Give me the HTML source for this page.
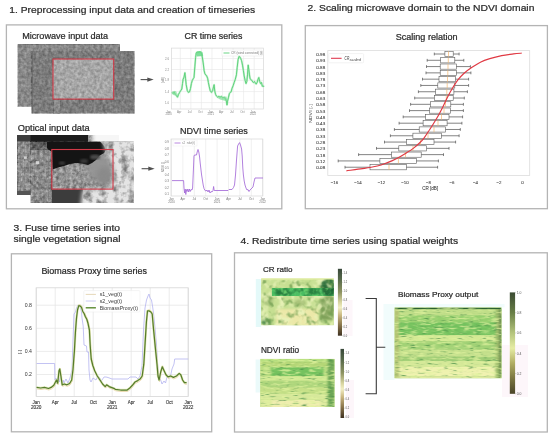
<!DOCTYPE html>
<html><head><meta charset="utf-8"><title>Workflow</title>
<style>
html,body{margin:0;padding:0;background:#fff;width:550px;height:435px;overflow:hidden}
svg{display:block}
text{font-family:"Liberation Sans",sans-serif}
svg{will-change:transform}
</style></head>
<body><svg width="550" height="435" viewBox="0 0 550 435">
<rect width="550" height="435" fill="#fff"/>
<defs>
<filter color-interpolation-filters="sRGB" id="nzMw" x="0" y="0" width="1" height="1" filterUnits="objectBoundingBox">
  <feTurbulence type="fractalNoise" baseFrequency="0.33" numOctaves="2" seed="3" result="n"/>
  <feColorMatrix in="n" type="matrix" values="1 0 0 0 0  1 0 0 0 0  1 0 0 0 0  0 0 0 0 1" result="g0"/>
  <feGaussianBlur in="g0" stdDeviation="0.75" result="g"/>
  <feComposite in="g" in2="SourceGraphic" operator="arithmetic" k1="0" k2="0.32" k3="1" k4="-0.16"/>
</filter>
<filter color-interpolation-filters="sRGB" id="nzCoarse" x="0" y="0" width="1" height="1" filterUnits="objectBoundingBox">
  <feTurbulence type="fractalNoise" baseFrequency="0.22" numOctaves="3" seed="7" result="n"/>
  <feColorMatrix in="n" type="matrix" values="1 0 0 0 0  1 0 0 0 0  1 0 0 0 0  0 0 0 0 1" result="g0"/>
  <feGaussianBlur in="g0" stdDeviation="0.4" result="g"/>
  <feComposite in="g" in2="SourceGraphic" operator="arithmetic" k1="0" k2="0.55" k3="1" k4="-0.275"/>
</filter>
<filter color-interpolation-filters="sRGB" id="nzFine" x="0" y="0" width="1" height="1" filterUnits="objectBoundingBox">
  <feTurbulence type="fractalNoise" baseFrequency="0.3" numOctaves="3" seed="13" result="n"/>
  <feColorMatrix in="n" type="matrix" values="1 0 0 0 0  1 0 0 0 0  1 0 0 0 0  0 0 0 0 1" result="g0"/>
  <feGaussianBlur in="g0" stdDeviation="0.6" result="g"/>
  <feComposite in="g" in2="SourceGraphic" operator="arithmetic" k1="0" k2="0.55" k3="1" k4="-0.275"/>
</filter>
<filter color-interpolation-filters="sRGB" id="cloudPatch" x="0" y="0" width="1" height="1" filterUnits="objectBoundingBox">
  <feTurbulence type="fractalNoise" baseFrequency="0.14" numOctaves="3" seed="40" result="n"/>
  <feColorMatrix in="n" type="matrix" values="0 0 0 0 0.47  0 0 0 0 0.47  0 0 0 0 0.47  2.6 0 0 0 -1.12" result="p"/>
  <feGaussianBlur in="p" stdDeviation="0.6" result="pb"/>
  <feComposite in="pb" in2="SourceAlpha" operator="in"/>
</filter>
<filter color-interpolation-filters="sRGB" id="blur1"><feGaussianBlur stdDeviation="1.2"/></filter>
<filter color-interpolation-filters="sRGB" id="blur2"><feGaussianBlur stdDeviation="2.2"/></filter>
<filter color-interpolation-filters="sRGB" id="blur3"><feGaussianBlur stdDeviation="3.5"/></filter>
<filter color-interpolation-filters="sRGB" id="soft"><feGaussianBlur stdDeviation="0.35"/></filter>
<filter color-interpolation-filters="sRGB" id="greenMap" x="0" y="0" width="1" height="1" filterUnits="objectBoundingBox">
  <feTurbulence type="fractalNoise" baseFrequency="0.12" numOctaves="3" seed="11" result="n"/>
  <feComponentTransfer in="n" result="c">
    <feFuncR type="table" tableValues="0.15 0.35 0.6 0.85 0.95 0.98"/>
    <feFuncG type="table" tableValues="0.45 0.55 0.72 0.85 0.92 0.95"/>
    <feFuncB type="table" tableValues="0.25 0.3 0.4 0.55 0.65 0.7"/>
    <feFuncA type="table" tableValues="1 1"/>
  </feComponentTransfer>
  <feComposite in="c" in2="SourceGraphic" operator="in"/>
</filter>
<filter color-interpolation-filters="sRGB" id="stripeMap" x="0" y="0" width="1" height="1" filterUnits="objectBoundingBox">
  <feTurbulence type="fractalNoise" baseFrequency="0.05 0.35" numOctaves="3" seed="5" result="n"/>
  <feComponentTransfer in="n" result="c">
    <feFuncR type="table" tableValues="0.2 0.4 0.65 0.85 0.93 0.97"/>
    <feFuncG type="table" tableValues="0.5 0.6 0.75 0.86 0.92 0.95"/>
    <feFuncB type="table" tableValues="0.3 0.32 0.42 0.5 0.6 0.68"/>
    <feFuncA type="table" tableValues="1 1"/>
  </feComponentTransfer>
  <feComposite in="c" in2="SourceGraphic" operator="in"/>
</filter>
<linearGradient id="cbar" x1="0" y1="0" x2="0" y2="1">
  <stop offset="0" stop-color="#38483a"/>
  <stop offset="0.15" stop-color="#55684a"/>
  <stop offset="0.35" stop-color="#8e9462"/>
  <stop offset="0.5" stop-color="#d8d4a0"/>
  <stop offset="0.58" stop-color="#f2eec4"/>
  <stop offset="0.7" stop-color="#c8b47e"/>
  <stop offset="0.85" stop-color="#857048"/>
  <stop offset="1" stop-color="#3e3020"/>
</linearGradient>
<linearGradient id="cbar2" x1="0" y1="0" x2="0" y2="1">
  <stop offset="0" stop-color="#3a4a32"/>
  <stop offset="0.2" stop-color="#687e46"/>
  <stop offset="0.4" stop-color="#b4c47c"/>
  <stop offset="0.55" stop-color="#e6eca4"/>
  <stop offset="0.7" stop-color="#b0ac62"/>
  <stop offset="0.85" stop-color="#7a7440"/>
  <stop offset="1" stop-color="#4a4428"/>
</linearGradient>
<clipPath id="cpOptB"><rect x="17" y="135" width="102" height="60"/></clipPath>
<clipPath id="cpOptF"><rect x="30.5" y="141.5" width="103.5" height="61.5"/></clipPath>
</defs>
<rect x="6.4" y="24.9" width="275.4" height="183.9" fill="none" stroke="#b4b4b4" stroke-width="1.3"/>
<rect x="305.3" y="25.6" width="242.1" height="183.1" fill="none" stroke="#b4b4b4" stroke-width="1.3"/>
<rect x="11.4" y="253.8" width="200.3" height="178.0" fill="none" stroke="#b4b4b4" stroke-width="1.3"/>
<rect x="234.5" y="252.8" width="312.8" height="179.2" fill="none" stroke="#b4b4b4" stroke-width="1.3"/>
<text x="9.3" y="12.8" font-size="9.3" fill="#2a2a2a" text-anchor="start" textLength="245.8" lengthAdjust="spacingAndGlyphs" stroke="#2a2a2a" stroke-width="0.22" >1. Preprocessing input data and creation of timeseries</text>
<text x="307.6" y="11.1" font-size="9.0" fill="#2a2a2a" text-anchor="start" textLength="226.8" lengthAdjust="spacingAndGlyphs" stroke="#2a2a2a" stroke-width="0.22" >2. Scaling microwave domain to the NDVI domain</text>
<text x="13.6" y="231.0" font-size="9.1" fill="#2a2a2a" text-anchor="start" textLength="106.4" lengthAdjust="spacingAndGlyphs" stroke="#2a2a2a" stroke-width="0.22" >3. Fuse time series into</text>
<text x="13.6" y="242.3" font-size="9.1" fill="#2a2a2a" text-anchor="start" textLength="106.9" lengthAdjust="spacingAndGlyphs" stroke="#2a2a2a" stroke-width="0.22" >single vegetation signal</text>
<text x="240.6" y="244.0" font-size="9.0" fill="#2a2a2a" text-anchor="start" textLength="217.5" lengthAdjust="spacingAndGlyphs" stroke="#2a2a2a" stroke-width="0.22" >4. Redistribute time series using spatial weights</text>
<text x="22.2" y="39.0" font-size="8.7" fill="#2a2a2a" text-anchor="start" textLength="86.0" lengthAdjust="spacingAndGlyphs" stroke="#2a2a2a" stroke-width="0.22" >Microwave input data</text>
<text x="17.8" y="130.9" font-size="8.5" fill="#2a2a2a" text-anchor="start" textLength="71.8" lengthAdjust="spacingAndGlyphs" stroke="#2a2a2a" stroke-width="0.22" >Optical input data</text>
<text x="184.5" y="38.6" font-size="8.6" fill="#2a2a2a" text-anchor="start" textLength="57.9" lengthAdjust="spacingAndGlyphs" stroke="#2a2a2a" stroke-width="0.22" >CR time series</text>
<text x="180.0" y="133.5" font-size="8.9" fill="#2a2a2a" text-anchor="start" textLength="67.8" lengthAdjust="spacingAndGlyphs" stroke="#2a2a2a" stroke-width="0.22" >NDVI time series</text>
<text x="395.7" y="40.1" font-size="8.4" fill="#2a2a2a" text-anchor="start" textLength="61.9" lengthAdjust="spacingAndGlyphs" stroke="#2a2a2a" stroke-width="0.22" >Scaling relation</text>
<text x="41.4" y="273.6" font-size="8.4" fill="#2a2a2a" text-anchor="start" textLength="105.5" lengthAdjust="spacingAndGlyphs" stroke="#2a2a2a" stroke-width="0.22" >Biomass Proxy time series</text>
<text x="263.0" y="272.0" font-size="7.9" fill="#2a2a2a" text-anchor="start" textLength="29.5" lengthAdjust="spacingAndGlyphs" stroke="#2a2a2a" stroke-width="0.22" >CR ratio</text>
<text x="260.9" y="352.9" font-size="8.4" fill="#2a2a2a" text-anchor="start" textLength="38.2" lengthAdjust="spacingAndGlyphs" stroke="#2a2a2a" stroke-width="0.22" >NDVI ratio</text>
<text x="397.9" y="297.0" font-size="7.4" fill="#2a2a2a" text-anchor="start" textLength="80.4" lengthAdjust="spacingAndGlyphs" stroke="#2a2a2a" stroke-width="0.22" >Biomass Proxy output</text>
<g filter="url(#soft)"><line x1="140.6" y1="79.6" x2="148.7" y2="79.6" stroke="#505050" stroke-width="1.1"/><polygon points="147.29999999999998,77.5 153.7,79.6 147.29999999999998,81.69999999999999" fill="#505050"/></g>
<g filter="url(#soft)"><line x1="141.6" y1="168.7" x2="149.7" y2="168.7" stroke="#505050" stroke-width="1.1"/><polygon points="148.29999999999998,166.6 154.7,168.7 148.29999999999998,170.79999999999998" fill="#505050"/></g>
<rect x="17.9" y="44.1" width="101.9" height="62.3" fill="#888888" filter="url(#nzMw)"/>
<rect x="31.9" y="51.0" width="102.4" height="62.3" fill="#7c7c7c" filter="url(#nzMw)"/>
<line x1="32.2" y1="51" x2="32.2" y2="113.3" stroke="#5a5a5a" stroke-width="0.7"/>
<rect x="53.5" y="99" width="7" height="14.3" fill="#8c8c8c" filter="url(#nzMw)" opacity="0.8"/>
<rect x="53.0" y="59.0" width="60.7" height="40.1" fill="#a6a6a6" filter="url(#nzMw)"/>
<rect x="53.0" y="59.0" width="60.7" height="40.1" fill="none" stroke="#d23a48" stroke-width="1.1"/>
<g clip-path="url(#cpOptB)">
<rect x="17.4" y="135" width="102" height="60.3" fill="#8e8e8e" filter="url(#nzFine)"/>
<line x1="20.5" y1="142" x2="20.5" y2="195" stroke="#6e6e6e" stroke-width="0.5" opacity="0.7"/>
<line x1="24.5" y1="142" x2="24.5" y2="195" stroke="#6e6e6e" stroke-width="0.5" opacity="0.7"/>
<line x1="28.0" y1="142" x2="28.0" y2="195" stroke="#6e6e6e" stroke-width="0.5" opacity="0.7"/>
<line x1="17" y1="150" x2="30.5" y2="150" stroke="#b0b0b0" stroke-width="0.6" opacity="0.7"/>
<line x1="17" y1="166" x2="30.5" y2="166" stroke="#b0b0b0" stroke-width="0.6" opacity="0.7"/>
<line x1="17" y1="178" x2="30.5" y2="178" stroke="#b0b0b0" stroke-width="0.6" opacity="0.7"/>
<line x1="17" y1="188" x2="30.5" y2="188" stroke="#b0b0b0" stroke-width="0.6" opacity="0.7"/>
<rect x="24" y="156.3" width="2.8" height="2.6" fill="#d0d0d0" filter="url(#soft)"/>
<rect x="30" y="133" width="58" height="9" fill="#1c1c1c" filter="url(#soft)"/>
<rect x="17" y="133" width="13.5" height="8.5" fill="#3e3e3e" filter="url(#soft)"/>
<rect x="92" y="126" width="36" height="20" fill="#f6f6f6" filter="url(#blur2)"/>
<rect x="17" y="191" width="14" height="5" fill="#555" filter="url(#soft)"/>
</g>
<g clip-path="url(#cpOptF)">
<rect x="30.5" y="141.5" width="103.1" height="61.4" fill="#8a8a8a" filter="url(#nzFine)"/>
<line x1="34.5" y1="150" x2="34.5" y2="203" stroke="#6c6c6c" stroke-width="0.5" opacity="0.7"/>
<line x1="39.0" y1="150" x2="39.0" y2="203" stroke="#6c6c6c" stroke-width="0.5" opacity="0.7"/>
<line x1="44.0" y1="150" x2="44.0" y2="203" stroke="#6c6c6c" stroke-width="0.5" opacity="0.7"/>
<line x1="48.5" y1="150" x2="48.5" y2="203" stroke="#6c6c6c" stroke-width="0.5" opacity="0.7"/>
<line x1="30.5" y1="156" x2="52" y2="156" stroke="#b4b4b4" stroke-width="0.6" opacity="0.7"/>
<line x1="30.5" y1="170" x2="52" y2="170" stroke="#b4b4b4" stroke-width="0.6" opacity="0.7"/>
<line x1="30.5" y1="181" x2="52" y2="181" stroke="#b4b4b4" stroke-width="0.6" opacity="0.7"/>
<line x1="30.5" y1="192" x2="52" y2="192" stroke="#b4b4b4" stroke-width="0.6" opacity="0.7"/>
<rect x="35.8" y="161.2" width="3.4" height="3" fill="#d4d4d4" filter="url(#soft)"/>
<rect x="30.5" y="141.5" width="18" height="8.5" fill="#5e5e5e" filter="url(#nzFine)"/>
<rect x="51.8" y="160" width="62" height="30" fill="#939393" filter="url(#nzFine)"/>
<ellipse cx="100" cy="168" rx="14" ry="14" fill="#949494" filter="url(#blur3)"/>
<polygon points="47.0,141.5 100.0,141.5 104.0,146.0 106.0,150.0 104.0,153.0 99.0,156.0 96.0,160.0 92.0,163.0 88.0,165.0 82.0,163.5 76.0,163.0 70.0,164.0 64.0,166.0 58.0,167.5 52.5,169.5 52.0,152.0 49.0,150.0 47.0,148.0" fill="#141414" filter="url(#soft)"/>
<ellipse cx="95" cy="157" rx="5" ry="2.5" fill="#4a4a4a" filter="url(#blur1)"/>
<ellipse cx="84" cy="161" rx="4" ry="2" fill="#3a3a3a" filter="url(#blur1)"/>
<ellipse cx="62" cy="163" rx="3" ry="1.6" fill="#404040" filter="url(#blur1)"/>
<rect x="51.8" y="189.5" width="31" height="14" fill="#3c3c3c" filter="url(#soft)"/>
<polygon points="103.3,136.9 142.3,136.9 142.3,207.9 80.4,207.9 82.7,190.0 105.6,188.4 114.8,180.4 112.5,164.4 107.9,155.2 104.5,148.3" fill="#e4e4e4" filter="url(#blur2)"/>
<polygon points="104.0,141.5 140.0,141.5 140.0,205.0 82.0,205.0 84.0,190.0 100.0,189.0 108.0,182.0 110.0,170.0 108.0,158.0 105.0,150.0" fill="#fff" filter="url(#cloudPatch)"/>
<ellipse cx="104" cy="176" rx="7" ry="9" fill="#8a8a8a" filter="url(#blur2)"/>
</g>
<rect x="51.8" y="149.5" width="61.2" height="39.6" fill="none" stroke="#d23a48" stroke-width="1.1"/>
<line x1="180.3" y1="48.1" x2="180.3" y2="109.0" stroke="#e6e6e6" stroke-width="0.6"/>
<line x1="190.9" y1="48.1" x2="190.9" y2="109.0" stroke="#e6e6e6" stroke-width="0.6"/>
<line x1="201.4" y1="48.1" x2="201.4" y2="109.0" stroke="#e6e6e6" stroke-width="0.6"/>
<line x1="212.0" y1="48.1" x2="212.0" y2="109.0" stroke="#e6e6e6" stroke-width="0.6"/>
<line x1="222.5" y1="48.1" x2="222.5" y2="109.0" stroke="#e6e6e6" stroke-width="0.6"/>
<line x1="233.1" y1="48.1" x2="233.1" y2="109.0" stroke="#e6e6e6" stroke-width="0.6"/>
<line x1="243.6" y1="48.1" x2="243.6" y2="109.0" stroke="#e6e6e6" stroke-width="0.6"/>
<line x1="254.2" y1="48.1" x2="254.2" y2="109.0" stroke="#e6e6e6" stroke-width="0.6"/>
<line x1="171.4" y1="58.5" x2="263.6" y2="58.5" stroke="#e6e6e6" stroke-width="0.6"/>
<line x1="171.4" y1="69.5" x2="263.6" y2="69.5" stroke="#e6e6e6" stroke-width="0.6"/>
<line x1="171.4" y1="80.4" x2="263.6" y2="80.4" stroke="#e6e6e6" stroke-width="0.6"/>
<line x1="171.4" y1="91.6" x2="263.6" y2="91.6" stroke="#e6e6e6" stroke-width="0.6"/>
<line x1="171.4" y1="102.6" x2="263.6" y2="102.6" stroke="#e6e6e6" stroke-width="0.6"/>
<rect x="171.4" y="48.1" width="92.2" height="60.9" fill="none" stroke="#d8d8d8" stroke-width="0.7"/>
<text x="169.0" y="59.5" font-size="2.9" fill="#888" text-anchor="end" >2.6</text>
<text x="169.0" y="70.5" font-size="2.9" fill="#888" text-anchor="end" >2.2</text>
<text x="169.0" y="81.4" font-size="2.9" fill="#888" text-anchor="end" >1.8</text>
<text x="169.0" y="92.6" font-size="2.9" fill="#888" text-anchor="end" >1.4</text>
<text x="169.0" y="103.6" font-size="2.9" fill="#888" text-anchor="end" >1.0</text>
<text x="168.6" y="112.5" font-size="2.9" fill="#888" text-anchor="middle" >Jan</text>
<text x="168.6" y="115.3" font-size="2.9" fill="#888" text-anchor="middle" >2020</text>
<text x="179.2" y="112.5" font-size="2.9" fill="#888" text-anchor="middle" >Apr</text>
<text x="189.7" y="112.5" font-size="2.9" fill="#888" text-anchor="middle" >Jul</text>
<text x="200.2" y="112.5" font-size="2.9" fill="#888" text-anchor="middle" >Oct</text>
<text x="210.8" y="112.5" font-size="2.9" fill="#888" text-anchor="middle" >Jan</text>
<text x="210.8" y="115.3" font-size="2.9" fill="#888" text-anchor="middle" >2021</text>
<text x="221.3" y="112.5" font-size="2.9" fill="#888" text-anchor="middle" >Apr</text>
<text x="231.9" y="112.5" font-size="2.9" fill="#888" text-anchor="middle" >Jul</text>
<text x="242.4" y="112.5" font-size="2.9" fill="#888" text-anchor="middle" >Oct</text>
<text x="253.0" y="112.5" font-size="2.9" fill="#888" text-anchor="middle" >Jan</text>
<text x="253.0" y="115.3" font-size="2.9" fill="#888" text-anchor="middle" >2022</text>
<text x="163.8" y="80.0" font-size="3.0" fill="#777" text-anchor="middle" transform="rotate(-90 163.8 80)">[dB]</text>
<rect x="222" y="50" width="40" height="6" fill="#fff" stroke="#e0e0e0" stroke-width="0.4"/>
<line x1="223.5" y1="53" x2="229.5" y2="53" stroke="#6bd585" stroke-width="1"/>
<text x="231.0" y="54.1" font-size="2.9" fill="#777" text-anchor="start" textLength="31.5" lengthAdjust="spacingAndGlyphs" >CR (wind corrected) [t]</text>
<polyline points="172.0,92.4 173.1,93.5 174.2,91.9 175.3,94.5 176.4,95.6 177.5,97.2 178.5,94.5 179.6,92.4 180.7,90.6 181.8,89.1 182.5,83.6 183.1,79.3 184.0,77.1 184.9,72.7 185.5,78.2 186.2,84.7 187.3,90.6 188.4,92.4 189.5,91.9 190.5,88.4 191.4,83.6 192.3,80.4 193.2,78.8 194.0,77.5 194.9,66.2 195.6,57.5 196.2,53.1 197.1,52.0 198.2,52.2 199.3,52.0 200.4,52.4 201.5,53.5 202.3,57.0 203.2,62.9 204.1,70.5 204.9,73.8 205.8,74.9 206.7,76.0 207.6,78.2 208.4,82.5 209.3,86.9 210.2,90.6 211.5,92.4 212.6,90.6 213.5,86.9 214.1,84.7 214.8,91.3 215.6,94.5 216.7,96.3 217.8,97.2 218.9,96.3 220.0,97.2 221.5,96.3 222.8,97.8 224.2,97.2 225.5,98.9 226.3,100.7 227.0,105.0 227.6,101.1 228.5,97.2 229.4,93.5 230.3,92.4 231.1,91.9 232.0,88.4 233.1,85.8 234.2,82.5 235.3,79.3 236.4,74.9 237.2,67.3 238.1,59.6 239.0,56.4 239.9,57.0 240.7,58.5 241.6,60.7 242.5,65.1 243.4,70.5 244.2,76.0 245.1,80.4 246.0,83.6 246.8,81.5 247.5,74.9 248.2,65.1 248.8,69.5 249.5,74.9 250.1,78.8 251.0,79.7 251.9,80.4 252.7,81.9 253.6,82.5 254.5,81.5 255.4,83.2 256.2,84.1 257.1,82.5 258.0,79.3 258.8,77.5 259.7,81.5 260.6,83.6 261.5,82.5 262.3,86.3 263.2,85.8 263.9,86.9" fill="none" stroke="#a8eab8" stroke-width="2.0" stroke-linejoin="round" opacity="0.7"/>
<polyline points="172.0,92.4 173.1,93.5 174.2,91.9 175.3,94.5 176.4,95.6 177.5,97.2 178.5,94.5 179.6,92.4 180.7,90.6 181.8,89.1 182.5,83.6 183.1,79.3 184.0,77.1 184.9,72.7 185.5,78.2 186.2,84.7 187.3,90.6 188.4,92.4 189.5,91.9 190.5,88.4 191.4,83.6 192.3,80.4 193.2,78.8 194.0,77.5 194.9,66.2 195.6,57.5 196.2,53.1 197.1,52.0 198.2,52.2 199.3,52.0 200.4,52.4 201.5,53.5 202.3,57.0 203.2,62.9 204.1,70.5 204.9,73.8 205.8,74.9 206.7,76.0 207.6,78.2 208.4,82.5 209.3,86.9 210.2,90.6 211.5,92.4 212.6,90.6 213.5,86.9 214.1,84.7 214.8,91.3 215.6,94.5 216.7,96.3 217.8,97.2 218.9,96.3 220.0,97.2 221.5,96.3 222.8,97.8 224.2,97.2 225.5,98.9 226.3,100.7 227.0,105.0 227.6,101.1 228.5,97.2 229.4,93.5 230.3,92.4 231.1,91.9 232.0,88.4 233.1,85.8 234.2,82.5 235.3,79.3 236.4,74.9 237.2,67.3 238.1,59.6 239.0,56.4 239.9,57.0 240.7,58.5 241.6,60.7 242.5,65.1 243.4,70.5 244.2,76.0 245.1,80.4 246.0,83.6 246.8,81.5 247.5,74.9 248.2,65.1 248.8,69.5 249.5,74.9 250.1,78.8 251.0,79.7 251.9,80.4 252.7,81.9 253.6,82.5 254.5,81.5 255.4,83.2 256.2,84.1 257.1,82.5 258.0,79.3 258.8,77.5 259.7,81.5 260.6,83.6 261.5,82.5 262.3,86.3 263.2,85.8 263.9,86.9" fill="none" stroke="#5fd27c" stroke-width="1.0" stroke-linejoin="round"/>
<path d="M196.2,54 C196.8,50.5 201,50.2 202.6,52.5 L203.2,56 L197,56.5 Z" fill="#6ad88a" opacity="0.85"/>
<path d="M217,97.5 L226.5,96.5 L227.5,101.5 L220,99.5 Z" fill="#7ddc96" opacity="0.7"/>
<path d="M172,91.5 L176,91 L178.5,96 L173,95 Z" fill="#7ddc96" opacity="0.6"/>
<line x1="171.5" y1="139.0" x2="171.5" y2="196.0" stroke="#e6e6e6" stroke-width="0.6"/>
<line x1="182.9" y1="139.0" x2="182.9" y2="196.0" stroke="#e6e6e6" stroke-width="0.6"/>
<line x1="194.3" y1="139.0" x2="194.3" y2="196.0" stroke="#e6e6e6" stroke-width="0.6"/>
<line x1="205.7" y1="139.0" x2="205.7" y2="196.0" stroke="#e6e6e6" stroke-width="0.6"/>
<line x1="217.1" y1="139.0" x2="217.1" y2="196.0" stroke="#e6e6e6" stroke-width="0.6"/>
<line x1="228.5" y1="139.0" x2="228.5" y2="196.0" stroke="#e6e6e6" stroke-width="0.6"/>
<line x1="239.9" y1="139.0" x2="239.9" y2="196.0" stroke="#e6e6e6" stroke-width="0.6"/>
<line x1="251.3" y1="139.0" x2="251.3" y2="196.0" stroke="#e6e6e6" stroke-width="0.6"/>
<line x1="262.7" y1="139.0" x2="262.7" y2="196.0" stroke="#e6e6e6" stroke-width="0.6"/>
<rect x="171.0" y="139.0" width="91.8" height="57.0" fill="none" stroke="#d8d8d8" stroke-width="0.7"/>
<text x="169.0" y="143.1" font-size="3.0" fill="#777" text-anchor="end" >0.9</text>
<text x="169.0" y="149.6" font-size="3.0" fill="#777" text-anchor="end" >0.8</text>
<text x="169.0" y="156.1" font-size="3.0" fill="#777" text-anchor="end" >0.7</text>
<text x="169.0" y="162.6" font-size="3.0" fill="#777" text-anchor="end" >0.6</text>
<text x="169.0" y="169.1" font-size="3.0" fill="#777" text-anchor="end" >0.5</text>
<text x="169.0" y="175.6" font-size="3.0" fill="#777" text-anchor="end" >0.4</text>
<text x="169.0" y="182.1" font-size="3.0" fill="#777" text-anchor="end" >0.3</text>
<text x="169.0" y="188.6" font-size="3.0" fill="#777" text-anchor="end" >0.2</text>
<text x="169.0" y="195.1" font-size="3.0" fill="#777" text-anchor="end" >0.1</text>
<text x="171.5" y="199.6" font-size="3.0" fill="#777" text-anchor="middle" >Jan</text>
<text x="171.5" y="202.6" font-size="3.0" fill="#777" text-anchor="middle" >2020</text>
<text x="182.9" y="199.6" font-size="3.0" fill="#777" text-anchor="middle" >Apr</text>
<text x="194.3" y="199.6" font-size="3.0" fill="#777" text-anchor="middle" >Jul</text>
<text x="205.7" y="199.6" font-size="3.0" fill="#777" text-anchor="middle" >Oct</text>
<text x="217.1" y="199.6" font-size="3.0" fill="#777" text-anchor="middle" >Jan</text>
<text x="217.1" y="202.6" font-size="3.0" fill="#777" text-anchor="middle" >2021</text>
<text x="228.5" y="199.6" font-size="3.0" fill="#777" text-anchor="middle" >Apr</text>
<text x="239.9" y="199.6" font-size="3.0" fill="#777" text-anchor="middle" >Jul</text>
<text x="251.3" y="199.6" font-size="3.0" fill="#777" text-anchor="middle" >Oct</text>
<text x="262.7" y="199.6" font-size="3.0" fill="#777" text-anchor="middle" >Jan</text>
<text x="262.7" y="202.6" font-size="3.0" fill="#777" text-anchor="middle" >2022</text>
<text x="163.5" y="167.0" font-size="3.0" fill="#777" text-anchor="middle" transform="rotate(-90 163.5 167)">NDVI [-]</text>
<rect x="173" y="140" width="24" height="6" fill="#fff" stroke="#e8e8e8" stroke-width="0.4"/>
<line x1="174.5" y1="143" x2="180.5" y2="143" stroke="#a86ad8" stroke-width="0.8"/>
<text x="182.0" y="144.1" font-size="2.8" fill="#888" text-anchor="start" textLength="13.0" lengthAdjust="spacingAndGlyphs" >s2_ndvi(t)</text>
<polyline points="172.0,180.6 183.6,180.6 184.0,188.0 184.6,193.0 185.2,189.0 185.8,194.5 186.4,189.5 187.0,191.5 187.8,189.0 188.6,192.0 189.4,189.0 190.2,191.5 191.0,189.5 192.0,190.0 192.6,188.0 193.4,170.0 194.0,155.5 195.0,155.0 196.5,155.0 197.2,152.0 198.0,149.5 198.8,152.0 199.6,157.0 200.2,163.0 201.0,170.0 201.6,175.0 202.4,180.0 203.2,185.0 204.0,188.5 205.0,190.5 206.0,191.0 207.0,190.0 208.0,192.0 209.0,190.0 210.0,193.0 211.0,191.5 212.0,192.0 213.0,190.5 213.6,186.5 214.2,190.5 220.0,190.5 228.0,190.5 229.0,189.5 232.0,189.5 233.5,187.5 234.5,185.0 235.5,175.0 236.5,160.0 237.6,146.0 238.6,144.0 239.6,142.6 240.5,145.0 241.6,149.0 242.2,156.0 242.8,168.0 243.4,175.0 244.2,181.0 245.0,185.0 246.0,188.0 247.0,190.0 248.0,189.5 249.0,191.5 250.0,190.0 251.0,189.0 252.0,188.0 253.0,187.0 254.0,182.0 255.0,178.0 263.0,178.0" fill="none" stroke="#a46ad8" stroke-width="0.85" stroke-linejoin="round"/>
<rect x="327.8" y="50.6" width="201.9" height="124.8" fill="none" stroke="#dcdcdc" stroke-width="0.8"/>
<line x1="434.3" y1="54.0" x2="444.9" y2="54.0" stroke="#5a5a5a" stroke-width="0.75"/>
<line x1="453.2" y1="54.0" x2="459.1" y2="54.0" stroke="#5a5a5a" stroke-width="0.75"/>
<line x1="434.3" y1="52.6" x2="434.3" y2="55.4" stroke="#5a5a5a" stroke-width="0.75"/>
<line x1="459.1" y1="52.6" x2="459.1" y2="55.4" stroke="#5a5a5a" stroke-width="0.75"/>
<rect x="444.9" y="51.4" width="8.3" height="5.2" fill="none" stroke="#5a5a5a" stroke-width="0.6"/>
<line x1="448.5" y1="51.4" x2="448.5" y2="56.6" stroke="#f6b870" stroke-width="0.7"/>
<text x="325.2" y="55.9" font-size="3.9" fill="#333" text-anchor="end" textLength="8.9" lengthAdjust="spacingAndGlyphs" stroke="#333" stroke-width="0.05" >0.98</text>
<line x1="427.2" y1="60.29" x2="440.7" y2="60.29" stroke="#5a5a5a" stroke-width="0.75"/>
<line x1="454.8" y1="60.29" x2="463.8" y2="60.29" stroke="#5a5a5a" stroke-width="0.75"/>
<line x1="427.2" y1="58.89" x2="427.2" y2="61.69" stroke="#5a5a5a" stroke-width="0.75"/>
<line x1="463.8" y1="58.89" x2="463.8" y2="61.69" stroke="#5a5a5a" stroke-width="0.75"/>
<rect x="440.7" y="57.69" width="14.1" height="5.2" fill="none" stroke="#5a5a5a" stroke-width="0.6"/>
<line x1="448.3" y1="57.69" x2="448.3" y2="62.89" stroke="#f6b870" stroke-width="0.7"/>
<text x="325.2" y="62.2" font-size="3.9" fill="#333" text-anchor="end" textLength="8.9" lengthAdjust="spacingAndGlyphs" stroke="#333" stroke-width="0.05" >0.93</text>
<line x1="426.5" y1="66.58" x2="440.2" y2="66.58" stroke="#5a5a5a" stroke-width="0.75"/>
<line x1="456.3" y1="66.58" x2="470.4" y2="66.58" stroke="#5a5a5a" stroke-width="0.75"/>
<line x1="426.5" y1="65.17999999999999" x2="426.5" y2="67.98" stroke="#5a5a5a" stroke-width="0.75"/>
<line x1="470.4" y1="65.17999999999999" x2="470.4" y2="67.98" stroke="#5a5a5a" stroke-width="0.75"/>
<rect x="440.2" y="63.98" width="16.1" height="5.2" fill="none" stroke="#5a5a5a" stroke-width="0.6"/>
<line x1="448" y1="63.98" x2="448" y2="69.17999999999999" stroke="#f6b870" stroke-width="0.7"/>
<text x="325.2" y="68.5" font-size="3.9" fill="#333" text-anchor="end" textLength="8.9" lengthAdjust="spacingAndGlyphs" stroke="#333" stroke-width="0.05" >0.88</text>
<line x1="426.0" y1="72.87" x2="440.2" y2="72.87" stroke="#5a5a5a" stroke-width="0.75"/>
<line x1="456.3" y1="72.87" x2="470.9" y2="72.87" stroke="#5a5a5a" stroke-width="0.75"/>
<line x1="426.0" y1="71.47" x2="426.0" y2="74.27000000000001" stroke="#5a5a5a" stroke-width="0.75"/>
<line x1="470.9" y1="71.47" x2="470.9" y2="74.27000000000001" stroke="#5a5a5a" stroke-width="0.75"/>
<rect x="440.2" y="70.27000000000001" width="16.1" height="5.2" fill="none" stroke="#5a5a5a" stroke-width="0.6"/>
<line x1="447.8" y1="70.27000000000001" x2="447.8" y2="75.47" stroke="#f6b870" stroke-width="0.7"/>
<text x="325.2" y="74.8" font-size="3.9" fill="#333" text-anchor="end" textLength="8.9" lengthAdjust="spacingAndGlyphs" stroke="#333" stroke-width="0.05" >0.83</text>
<line x1="422.5" y1="79.16" x2="439.0" y2="79.16" stroke="#5a5a5a" stroke-width="0.75"/>
<line x1="455.6" y1="79.16" x2="468.6" y2="79.16" stroke="#5a5a5a" stroke-width="0.75"/>
<line x1="422.5" y1="77.75999999999999" x2="422.5" y2="80.56" stroke="#5a5a5a" stroke-width="0.75"/>
<line x1="468.6" y1="77.75999999999999" x2="468.6" y2="80.56" stroke="#5a5a5a" stroke-width="0.75"/>
<rect x="439.0" y="76.56" width="16.6" height="5.2" fill="none" stroke="#5a5a5a" stroke-width="0.6"/>
<line x1="447.5" y1="76.56" x2="447.5" y2="81.75999999999999" stroke="#f6b870" stroke-width="0.7"/>
<text x="325.2" y="81.1" font-size="3.9" fill="#333" text-anchor="end" textLength="8.9" lengthAdjust="spacingAndGlyphs" stroke="#333" stroke-width="0.05" >0.78</text>
<line x1="420.8" y1="85.45" x2="437.8" y2="85.45" stroke="#5a5a5a" stroke-width="0.75"/>
<line x1="454.8" y1="85.45" x2="468.6" y2="85.45" stroke="#5a5a5a" stroke-width="0.75"/>
<line x1="420.8" y1="84.05" x2="420.8" y2="86.85000000000001" stroke="#5a5a5a" stroke-width="0.75"/>
<line x1="468.6" y1="84.05" x2="468.6" y2="86.85000000000001" stroke="#5a5a5a" stroke-width="0.75"/>
<rect x="437.8" y="82.85000000000001" width="17.0" height="5.2" fill="none" stroke="#5a5a5a" stroke-width="0.6"/>
<line x1="447.2" y1="82.85000000000001" x2="447.2" y2="88.05" stroke="#f6b870" stroke-width="0.7"/>
<text x="325.2" y="87.4" font-size="3.9" fill="#333" text-anchor="end" textLength="8.9" lengthAdjust="spacingAndGlyphs" stroke="#333" stroke-width="0.05" >0.73</text>
<line x1="418.4" y1="91.74" x2="435.5" y2="91.74" stroke="#5a5a5a" stroke-width="0.75"/>
<line x1="453.9" y1="91.74" x2="467.4" y2="91.74" stroke="#5a5a5a" stroke-width="0.75"/>
<line x1="418.4" y1="90.33999999999999" x2="418.4" y2="93.14" stroke="#5a5a5a" stroke-width="0.75"/>
<line x1="467.4" y1="90.33999999999999" x2="467.4" y2="93.14" stroke="#5a5a5a" stroke-width="0.75"/>
<rect x="435.5" y="89.14" width="18.4" height="5.2" fill="none" stroke="#5a5a5a" stroke-width="0.6"/>
<line x1="446.8" y1="89.14" x2="446.8" y2="94.33999999999999" stroke="#f6b870" stroke-width="0.7"/>
<text x="325.2" y="93.6" font-size="3.9" fill="#333" text-anchor="end" textLength="8.9" lengthAdjust="spacingAndGlyphs" stroke="#333" stroke-width="0.05" >0.68</text>
<line x1="414.7" y1="98.03" x2="434.3" y2="98.03" stroke="#5a5a5a" stroke-width="0.75"/>
<line x1="453.2" y1="98.03" x2="464.3" y2="98.03" stroke="#5a5a5a" stroke-width="0.75"/>
<line x1="414.7" y1="96.63" x2="414.7" y2="99.43" stroke="#5a5a5a" stroke-width="0.75"/>
<line x1="464.3" y1="96.63" x2="464.3" y2="99.43" stroke="#5a5a5a" stroke-width="0.75"/>
<rect x="434.3" y="95.43" width="18.9" height="5.2" fill="none" stroke="#5a5a5a" stroke-width="0.6"/>
<line x1="446.3" y1="95.43" x2="446.3" y2="100.63" stroke="#f6b870" stroke-width="0.7"/>
<text x="325.2" y="99.9" font-size="3.9" fill="#333" text-anchor="end" textLength="8.9" lengthAdjust="spacingAndGlyphs" stroke="#333" stroke-width="0.05" >0.63</text>
<line x1="410.6" y1="104.32" x2="430.3" y2="104.32" stroke="#5a5a5a" stroke-width="0.75"/>
<line x1="450.8" y1="104.32" x2="463.4" y2="104.32" stroke="#5a5a5a" stroke-width="0.75"/>
<line x1="410.6" y1="102.91999999999999" x2="410.6" y2="105.72" stroke="#5a5a5a" stroke-width="0.75"/>
<line x1="463.4" y1="102.91999999999999" x2="463.4" y2="105.72" stroke="#5a5a5a" stroke-width="0.75"/>
<rect x="430.3" y="101.72" width="20.5" height="5.2" fill="none" stroke="#5a5a5a" stroke-width="0.6"/>
<line x1="445.5" y1="101.72" x2="445.5" y2="106.91999999999999" stroke="#f6b870" stroke-width="0.7"/>
<text x="325.2" y="106.2" font-size="3.9" fill="#333" text-anchor="end" textLength="8.9" lengthAdjust="spacingAndGlyphs" stroke="#333" stroke-width="0.05" >0.58</text>
<line x1="409.5" y1="110.61" x2="429.6" y2="110.61" stroke="#5a5a5a" stroke-width="0.75"/>
<line x1="450.4" y1="110.61" x2="463.4" y2="110.61" stroke="#5a5a5a" stroke-width="0.75"/>
<line x1="409.5" y1="109.21" x2="409.5" y2="112.01" stroke="#5a5a5a" stroke-width="0.75"/>
<line x1="463.4" y1="109.21" x2="463.4" y2="112.01" stroke="#5a5a5a" stroke-width="0.75"/>
<rect x="429.6" y="108.01" width="20.8" height="5.2" fill="none" stroke="#5a5a5a" stroke-width="0.6"/>
<line x1="444" y1="108.01" x2="444" y2="113.21" stroke="#f6b870" stroke-width="0.7"/>
<text x="325.2" y="112.5" font-size="3.9" fill="#333" text-anchor="end" textLength="8.9" lengthAdjust="spacingAndGlyphs" stroke="#333" stroke-width="0.05" >0.53</text>
<line x1="403.2" y1="116.9" x2="425.6" y2="116.9" stroke="#5a5a5a" stroke-width="0.75"/>
<line x1="449.0" y1="116.9" x2="462.6" y2="116.9" stroke="#5a5a5a" stroke-width="0.75"/>
<line x1="403.2" y1="115.5" x2="403.2" y2="118.30000000000001" stroke="#5a5a5a" stroke-width="0.75"/>
<line x1="462.6" y1="115.5" x2="462.6" y2="118.30000000000001" stroke="#5a5a5a" stroke-width="0.75"/>
<rect x="425.6" y="114.30000000000001" width="23.4" height="5.2" fill="none" stroke="#5a5a5a" stroke-width="0.6"/>
<line x1="441.5" y1="114.30000000000001" x2="441.5" y2="119.5" stroke="#f6b870" stroke-width="0.7"/>
<text x="325.2" y="118.8" font-size="3.9" fill="#333" text-anchor="end" textLength="8.9" lengthAdjust="spacingAndGlyphs" stroke="#333" stroke-width="0.05" >0.48</text>
<line x1="399.1" y1="123.19" x2="423.1" y2="123.19" stroke="#5a5a5a" stroke-width="0.75"/>
<line x1="447.1" y1="123.19" x2="461.9" y2="123.19" stroke="#5a5a5a" stroke-width="0.75"/>
<line x1="399.1" y1="121.78999999999999" x2="399.1" y2="124.59" stroke="#5a5a5a" stroke-width="0.75"/>
<line x1="461.9" y1="121.78999999999999" x2="461.9" y2="124.59" stroke="#5a5a5a" stroke-width="0.75"/>
<rect x="423.1" y="120.59" width="24.0" height="5.2" fill="none" stroke="#5a5a5a" stroke-width="0.6"/>
<line x1="438" y1="120.59" x2="438" y2="125.78999999999999" stroke="#f6b870" stroke-width="0.7"/>
<text x="325.2" y="125.1" font-size="3.9" fill="#333" text-anchor="end" textLength="8.9" lengthAdjust="spacingAndGlyphs" stroke="#333" stroke-width="0.05" >0.43</text>
<line x1="394.4" y1="129.48" x2="419.2" y2="129.48" stroke="#5a5a5a" stroke-width="0.75"/>
<line x1="445.6" y1="129.48" x2="460.3" y2="129.48" stroke="#5a5a5a" stroke-width="0.75"/>
<line x1="394.4" y1="128.07999999999998" x2="394.4" y2="130.88" stroke="#5a5a5a" stroke-width="0.75"/>
<line x1="460.3" y1="128.07999999999998" x2="460.3" y2="130.88" stroke="#5a5a5a" stroke-width="0.75"/>
<rect x="419.2" y="126.88" width="26.4" height="5.2" fill="none" stroke="#5a5a5a" stroke-width="0.6"/>
<line x1="434" y1="126.88" x2="434" y2="132.07999999999998" stroke="#f6b870" stroke-width="0.7"/>
<text x="325.2" y="131.4" font-size="3.9" fill="#333" text-anchor="end" textLength="8.9" lengthAdjust="spacingAndGlyphs" stroke="#333" stroke-width="0.05" >0.38</text>
<line x1="390.4" y1="135.77" x2="412.9" y2="135.77" stroke="#5a5a5a" stroke-width="0.75"/>
<line x1="441.3" y1="135.77" x2="459.1" y2="135.77" stroke="#5a5a5a" stroke-width="0.75"/>
<line x1="390.4" y1="134.37" x2="390.4" y2="137.17000000000002" stroke="#5a5a5a" stroke-width="0.75"/>
<line x1="459.1" y1="134.37" x2="459.1" y2="137.17000000000002" stroke="#5a5a5a" stroke-width="0.75"/>
<rect x="412.9" y="133.17000000000002" width="28.4" height="5.2" fill="none" stroke="#5a5a5a" stroke-width="0.6"/>
<line x1="428" y1="133.17000000000002" x2="428" y2="138.37" stroke="#f6b870" stroke-width="0.7"/>
<text x="325.2" y="137.7" font-size="3.9" fill="#333" text-anchor="end" textLength="8.9" lengthAdjust="spacingAndGlyphs" stroke="#333" stroke-width="0.05" >0.33</text>
<line x1="384.5" y1="142.06" x2="406.4" y2="142.06" stroke="#5a5a5a" stroke-width="0.75"/>
<line x1="434.0" y1="142.06" x2="455.6" y2="142.06" stroke="#5a5a5a" stroke-width="0.75"/>
<line x1="384.5" y1="140.66" x2="384.5" y2="143.46" stroke="#5a5a5a" stroke-width="0.75"/>
<line x1="455.6" y1="140.66" x2="455.6" y2="143.46" stroke="#5a5a5a" stroke-width="0.75"/>
<rect x="406.4" y="139.46" width="27.6" height="5.2" fill="none" stroke="#5a5a5a" stroke-width="0.6"/>
<line x1="420.5" y1="139.46" x2="420.5" y2="144.66" stroke="#f6b870" stroke-width="0.7"/>
<text x="325.2" y="144.0" font-size="3.9" fill="#333" text-anchor="end" textLength="8.9" lengthAdjust="spacingAndGlyphs" stroke="#333" stroke-width="0.05" >0.28</text>
<line x1="376.5" y1="148.35" x2="398.8" y2="148.35" stroke="#5a5a5a" stroke-width="0.75"/>
<line x1="426.7" y1="148.35" x2="449.0" y2="148.35" stroke="#5a5a5a" stroke-width="0.75"/>
<line x1="376.5" y1="146.95" x2="376.5" y2="149.75" stroke="#5a5a5a" stroke-width="0.75"/>
<line x1="449.0" y1="146.95" x2="449.0" y2="149.75" stroke="#5a5a5a" stroke-width="0.75"/>
<rect x="398.8" y="145.75" width="27.9" height="5.2" fill="none" stroke="#5a5a5a" stroke-width="0.6"/>
<line x1="413" y1="145.75" x2="413" y2="150.95" stroke="#f6b870" stroke-width="0.7"/>
<text x="325.2" y="150.2" font-size="3.9" fill="#333" text-anchor="end" textLength="8.9" lengthAdjust="spacingAndGlyphs" stroke="#333" stroke-width="0.05" >0.23</text>
<line x1="358.6" y1="154.64" x2="391.5" y2="154.64" stroke="#5a5a5a" stroke-width="0.75"/>
<line x1="421.2" y1="154.64" x2="443.5" y2="154.64" stroke="#5a5a5a" stroke-width="0.75"/>
<line x1="358.6" y1="153.23999999999998" x2="358.6" y2="156.04" stroke="#5a5a5a" stroke-width="0.75"/>
<line x1="443.5" y1="153.23999999999998" x2="443.5" y2="156.04" stroke="#5a5a5a" stroke-width="0.75"/>
<rect x="391.5" y="152.04" width="29.7" height="5.2" fill="none" stroke="#5a5a5a" stroke-width="0.6"/>
<line x1="405.5" y1="152.04" x2="405.5" y2="157.23999999999998" stroke="#f6b870" stroke-width="0.7"/>
<text x="325.2" y="156.5" font-size="3.9" fill="#333" text-anchor="end" textLength="8.9" lengthAdjust="spacingAndGlyphs" stroke="#333" stroke-width="0.05" >0.18</text>
<line x1="338.2" y1="160.93" x2="379.9" y2="160.93" stroke="#5a5a5a" stroke-width="0.75"/>
<line x1="416.3" y1="160.93" x2="438.4" y2="160.93" stroke="#5a5a5a" stroke-width="0.75"/>
<line x1="338.2" y1="159.53" x2="338.2" y2="162.33" stroke="#5a5a5a" stroke-width="0.75"/>
<line x1="438.4" y1="159.53" x2="438.4" y2="162.33" stroke="#5a5a5a" stroke-width="0.75"/>
<rect x="379.9" y="158.33" width="36.4" height="5.2" fill="none" stroke="#5a5a5a" stroke-width="0.6"/>
<line x1="398.4" y1="158.33" x2="398.4" y2="163.53" stroke="#f6b870" stroke-width="0.7"/>
<text x="325.2" y="162.8" font-size="3.9" fill="#333" text-anchor="end" textLength="8.9" lengthAdjust="spacingAndGlyphs" stroke="#333" stroke-width="0.05" >0.12</text>
<line x1="345.0" y1="167.22" x2="370.0" y2="167.22" stroke="#5a5a5a" stroke-width="0.75"/>
<line x1="406.4" y1="167.22" x2="437.6" y2="167.22" stroke="#5a5a5a" stroke-width="0.75"/>
<line x1="345.0" y1="165.82" x2="345.0" y2="168.62" stroke="#5a5a5a" stroke-width="0.75"/>
<line x1="437.6" y1="165.82" x2="437.6" y2="168.62" stroke="#5a5a5a" stroke-width="0.75"/>
<rect x="370.0" y="164.62" width="36.4" height="5.2" fill="none" stroke="#5a5a5a" stroke-width="0.6"/>
<line x1="389" y1="164.62" x2="389" y2="169.82" stroke="#f6b870" stroke-width="0.7"/>
<text x="325.2" y="169.1" font-size="3.9" fill="#333" text-anchor="end" textLength="8.9" lengthAdjust="spacingAndGlyphs" stroke="#333" stroke-width="0.05" >0.08</text>
<path d="M346.4,170.8 C348.3,170.5 354.1,169.8 358.0,169.2 C361.9,168.6 366.8,168.0 370.0,167.5 C373.2,167.0 374.9,166.6 377.3,166.0 C379.7,165.4 382.1,164.7 384.5,163.8 C386.9,163.0 389.4,162.0 391.8,160.9 C394.2,159.8 396.7,158.6 399.1,157.3 C401.5,156.0 404.0,154.4 406.4,152.9 C408.8,151.4 411.4,149.8 413.6,148.1 C415.8,146.4 417.8,144.6 419.5,143.0 C421.2,141.4 422.4,140.3 423.8,138.4 C425.2,136.5 426.8,134.0 428.2,131.8 C429.6,129.6 431.1,127.6 432.5,125.3 C433.9,123.0 435.4,120.5 436.9,118.0 C438.4,115.5 440.0,112.4 441.3,110.0 C442.6,107.6 443.3,106.0 444.5,103.5 C445.7,101.0 447.1,98.0 448.5,95.3 C449.9,92.5 451.6,89.6 453.2,87.0 C454.8,84.4 456.1,82.2 457.9,79.9 C459.7,77.7 461.6,75.5 463.8,73.5 C466.0,71.5 468.1,70.0 470.9,68.1 C473.7,66.2 477.2,63.8 480.4,62.2 C483.5,60.6 486.2,59.7 489.8,58.6 C493.4,57.5 497.8,56.4 501.7,55.6 C505.6,54.8 510.2,54.3 513.5,53.9 C516.8,53.5 520.3,53.3 521.7,53.2" fill="none" stroke="#e03a44" stroke-width="1.2"/>
<text x="334.5" y="183.6" font-size="4.4" fill="#333" text-anchor="middle" stroke="#333" stroke-width="0.05" >−16</text>
<text x="358.0" y="183.6" font-size="4.4" fill="#333" text-anchor="middle" stroke="#333" stroke-width="0.05" >−14</text>
<text x="381.5" y="183.6" font-size="4.4" fill="#333" text-anchor="middle" stroke="#333" stroke-width="0.05" >−12</text>
<text x="405.0" y="183.6" font-size="4.4" fill="#333" text-anchor="middle" stroke="#333" stroke-width="0.05" >−10</text>
<text x="428.5" y="183.6" font-size="4.4" fill="#333" text-anchor="middle" stroke="#333" stroke-width="0.05" >−8</text>
<text x="452.0" y="183.6" font-size="4.4" fill="#333" text-anchor="middle" stroke="#333" stroke-width="0.05" >−6</text>
<text x="475.5" y="183.6" font-size="4.4" fill="#333" text-anchor="middle" stroke="#333" stroke-width="0.05" >−4</text>
<text x="499.0" y="183.6" font-size="4.4" fill="#333" text-anchor="middle" stroke="#333" stroke-width="0.05" >−2</text>
<text x="522.5" y="183.6" font-size="4.4" fill="#333" text-anchor="middle" stroke="#333" stroke-width="0.05" >0</text>
<text x="430.2" y="189.8" font-size="4.8" fill="#333" text-anchor="middle" textLength="16.0" lengthAdjust="spacingAndGlyphs" stroke="#333" stroke-width="0.05" >CR [dB]</text>
<text x="312.4" y="113.6" font-size="4.4" fill="#3a3a3a" text-anchor="middle" textLength="19.0" lengthAdjust="spacingAndGlyphs" transform="rotate(-90 312.4 113.6)">NDVI [-]</text>
<rect x="328.8" y="53.6" width="34.8" height="9.2" fill="#fff" stroke="#e6e6e6" stroke-width="0.5" rx="0.8"/>
<line x1="331.0" y1="58.3" x2="341.6" y2="58.3" stroke="#e03a50" stroke-width="1.1"/>
<text x="344.6" y="60.2" font-size="5.4" fill="#3a3a3a" font-style="italic" textLength="4.6" lengthAdjust="spacingAndGlyphs">CR</text>
<text x="349.4" y="60.8" font-size="3.3" fill="#3a3a3a" font-style="italic" textLength="11.6" lengthAdjust="spacingAndGlyphs">scaled</text>
<line x1="36.2" y1="287.8" x2="36.2" y2="396.4" stroke="#e4e4e4" stroke-width="0.7"/>
<line x1="55.2" y1="287.8" x2="55.2" y2="396.4" stroke="#e4e4e4" stroke-width="0.7"/>
<line x1="74.2" y1="287.8" x2="74.2" y2="396.4" stroke="#e4e4e4" stroke-width="0.7"/>
<line x1="93.2" y1="287.8" x2="93.2" y2="396.4" stroke="#e4e4e4" stroke-width="0.7"/>
<line x1="112.2" y1="287.8" x2="112.2" y2="396.4" stroke="#e4e4e4" stroke-width="0.7"/>
<line x1="131.2" y1="287.8" x2="131.2" y2="396.4" stroke="#e4e4e4" stroke-width="0.7"/>
<line x1="150.2" y1="287.8" x2="150.2" y2="396.4" stroke="#e4e4e4" stroke-width="0.7"/>
<line x1="169.2" y1="287.8" x2="169.2" y2="396.4" stroke="#e4e4e4" stroke-width="0.7"/>
<line x1="188.2" y1="287.8" x2="188.2" y2="396.4" stroke="#e4e4e4" stroke-width="0.7"/>
<line x1="36.2" y1="374.5" x2="188.2" y2="374.5" stroke="#e4e4e4" stroke-width="0.7"/>
<line x1="36.2" y1="351.4" x2="188.2" y2="351.4" stroke="#e4e4e4" stroke-width="0.7"/>
<line x1="36.2" y1="328.3" x2="188.2" y2="328.3" stroke="#e4e4e4" stroke-width="0.7"/>
<line x1="36.2" y1="305.2" x2="188.2" y2="305.2" stroke="#e4e4e4" stroke-width="0.7"/>
<rect x="36.2" y="287.8" width="152.0" height="108.6" fill="none" stroke="#d6d6d6" stroke-width="0.8"/>
<text x="32.0" y="376.1" font-size="4.6" fill="#333" text-anchor="end" textLength="7.2" lengthAdjust="spacingAndGlyphs" >0.2</text>
<text x="32.0" y="353.0" font-size="4.6" fill="#333" text-anchor="end" textLength="7.2" lengthAdjust="spacingAndGlyphs" >0.4</text>
<text x="32.0" y="329.9" font-size="4.6" fill="#333" text-anchor="end" textLength="7.2" lengthAdjust="spacingAndGlyphs" >0.6</text>
<text x="32.0" y="306.8" font-size="4.6" fill="#333" text-anchor="end" textLength="7.2" lengthAdjust="spacingAndGlyphs" >0.8</text>
<text x="21.0" y="352.0" font-size="4.4" fill="#444" text-anchor="middle" transform="rotate(-90 21 352)">[-]</text>
<text x="36.2" y="403.7" font-size="4.5" fill="#2a2a2a" text-anchor="middle" stroke="#2a2a2a" stroke-width="0.08" >Jan</text>
<text x="36.2" y="408.9" font-size="4.5" fill="#2a2a2a" text-anchor="middle" textLength="10.6" lengthAdjust="spacingAndGlyphs" stroke="#2a2a2a" stroke-width="0.08" >2020</text>
<text x="55.2" y="403.7" font-size="4.5" fill="#2a2a2a" text-anchor="middle" stroke="#2a2a2a" stroke-width="0.08" >Apr</text>
<text x="74.2" y="403.7" font-size="4.5" fill="#2a2a2a" text-anchor="middle" stroke="#2a2a2a" stroke-width="0.08" >Jul</text>
<text x="93.2" y="403.7" font-size="4.5" fill="#2a2a2a" text-anchor="middle" stroke="#2a2a2a" stroke-width="0.08" >Oct</text>
<text x="112.2" y="403.7" font-size="4.5" fill="#2a2a2a" text-anchor="middle" stroke="#2a2a2a" stroke-width="0.08" >Jan</text>
<text x="112.2" y="408.9" font-size="4.5" fill="#2a2a2a" text-anchor="middle" textLength="10.6" lengthAdjust="spacingAndGlyphs" stroke="#2a2a2a" stroke-width="0.08" >2021</text>
<text x="131.2" y="403.7" font-size="4.5" fill="#2a2a2a" text-anchor="middle" stroke="#2a2a2a" stroke-width="0.08" >Apr</text>
<text x="150.2" y="403.7" font-size="4.5" fill="#2a2a2a" text-anchor="middle" stroke="#2a2a2a" stroke-width="0.08" >Jul</text>
<text x="169.2" y="403.7" font-size="4.5" fill="#2a2a2a" text-anchor="middle" stroke="#2a2a2a" stroke-width="0.08" >Oct</text>
<text x="188.2" y="403.7" font-size="4.5" fill="#2a2a2a" text-anchor="middle" stroke="#2a2a2a" stroke-width="0.08" >Jan</text>
<text x="188.2" y="408.9" font-size="4.5" fill="#2a2a2a" text-anchor="middle" textLength="10.6" lengthAdjust="spacingAndGlyphs" stroke="#2a2a2a" stroke-width="0.08" >2022</text>
<polyline points="36.6,363.5 54.6,363.5 55.0,380.0 56.0,378.0 57.0,384.0 58.5,376.0 59.5,382.0 61.0,375.0 62.0,384.0 63.0,380.0 64.0,383.0 66.0,379.0 68.0,383.0 70.0,378.0 72.0,370.0 73.0,340.0 74.0,314.0 75.5,312.0 76.5,308.0 78.0,305.0 80.0,306.0 81.5,312.0 82.0,318.0 83.2,326.0 84.0,345.0 86.5,346.0 87.0,352.0 88.5,352.0 89.0,370.0 90.0,380.0 91.0,382.0 93.0,378.0 96.0,380.0 98.0,376.0 100.0,378.0 100.5,382.0 102.0,380.0 104.0,377.0 106.0,377.0 108.0,377.5 112.0,379.0 120.0,379.0 128.0,379.0 130.0,377.0 136.0,377.0 138.0,379.0 140.0,376.0 142.0,366.0 143.5,330.0 145.0,308.0 146.5,300.0 148.0,296.0 149.0,294.0 150.0,298.0 151.5,300.0 152.5,306.0 153.5,313.0 155.0,328.0 156.5,345.0 157.5,363.0 158.5,374.0 160.0,378.0 162.0,384.0 164.0,381.0 165.5,383.0 167.0,377.0 169.0,378.0 170.5,376.0 172.0,369.0 174.0,364.0 174.7,359.0 188.2,359.0" fill="none" stroke="#b4b4f0" stroke-width="0.8" stroke-linejoin="round"/>
<polyline points="37.0,388.9 41.0,389.5 44.9,388.9 48.9,390.0 51.5,388.9 54.2,386.8 55.5,384.2 56.8,381.5 58.1,384.7 59.4,372.3 60.2,368.0 61.3,377.5 62.6,386.3 64.7,385.5 67.4,386.3 70.0,385.0 72.1,381.5 73.4,368.5 74.8,350.0 75.8,331.5 76.9,317.0 77.9,309.0 79.2,304.6 80.6,305.0 81.9,306.4 83.2,310.4 84.5,312.5 85.8,315.7 87.2,318.3 88.4,322.3 89.8,329.0 90.6,344.7 91.6,358.0 93.2,364.5 95.1,372.3 97.7,377.5 100.4,381.5 103.0,385.5 105.6,388.1 107.0,386.3 109.6,388.1 114.9,390.2 115.7,390.8 121.0,391.5 127.6,391.5 130.2,389.5 132.8,386.8 135.4,383.5 138.1,382.1 140.8,380.2 142.6,377.5 144.2,363.2 145.5,342.0 146.8,321.0 147.9,309.9 149.4,309.9 151.3,311.0 152.6,313.0 154.0,328.9 155.8,347.4 157.4,363.2 158.4,377.5 159.5,381.5 161.1,373.5 162.7,365.8 164.5,372.3 166.4,376.3 168.4,378.4 171.1,377.5 173.8,378.9 176.9,377.5 179.6,374.9 181.2,376.3 183.0,381.5 184.8,384.2 187.0,384.2" fill="none" stroke="#e8c898" stroke-width="0.8" stroke-linejoin="round" opacity="0.9"/>
<polyline points="36.6,387.4 40.6,388.0 44.5,387.4 48.5,388.5 51.1,387.4 53.8,385.3 55.1,382.7 56.4,380.0 57.7,383.2 59.0,370.8 59.8,369.0 60.9,376.0 62.2,384.8 64.3,384.0 67.0,384.8 69.6,383.5 71.7,380.0 73.0,369.5 74.4,351.0 75.4,332.5 76.5,318.0 77.5,310.0 78.8,305.6 80.2,306.0 81.5,307.4 82.8,311.4 84.1,313.5 85.4,316.7 86.8,319.3 88.0,323.3 89.4,330.0 90.2,345.7 91.2,359.0 92.8,365.5 94.7,370.8 97.3,376.0 100.0,380.0 102.6,384.0 105.2,386.6 106.6,384.8 109.2,386.6 114.5,388.7 115.3,389.3 120.6,390.0 127.2,390.0 129.8,388.0 132.4,385.3 135.0,382.0 137.7,380.6 140.4,378.7 142.2,376.0 143.8,364.2 145.1,343.0 146.4,322.0 147.5,310.9 149.0,310.9 150.9,312.0 152.2,314.0 153.6,329.9 155.4,348.4 157.0,364.2 158.0,376.0 159.1,380.0 160.7,372.0 162.3,366.8 164.1,370.8 166.0,374.8 168.0,376.9 170.7,376.0 173.4,377.4 176.5,376.0 179.2,373.4 180.8,374.8 182.6,380.0 184.4,382.7 186.6,382.7" fill="none" stroke="#dfe8b0" stroke-width="2.4" stroke-linejoin="round" opacity="0.8"/>
<polyline points="36.6,387.4 40.6,388.0 44.5,387.4 48.5,388.5 51.1,387.4 53.8,385.3 55.1,382.7 56.4,380.0 57.7,383.2 59.0,370.8 59.8,369.0 60.9,376.0 62.2,384.8 64.3,384.0 67.0,384.8 69.6,383.5 71.7,380.0 73.0,369.5 74.4,351.0 75.4,332.5 76.5,318.0 77.5,310.0 78.8,305.6 80.2,306.0 81.5,307.4 82.8,311.4 84.1,313.5 85.4,316.7 86.8,319.3 88.0,323.3 89.4,330.0 90.2,345.7 91.2,359.0 92.8,365.5 94.7,370.8 97.3,376.0 100.0,380.0 102.6,384.0 105.2,386.6 106.6,384.8 109.2,386.6 114.5,388.7 115.3,389.3 120.6,390.0 127.2,390.0 129.8,388.0 132.4,385.3 135.0,382.0 137.7,380.6 140.4,378.7 142.2,376.0 143.8,364.2 145.1,343.0 146.4,322.0 147.5,310.9 149.0,310.9 150.9,312.0 152.2,314.0 153.6,329.9 155.4,348.4 157.0,364.2 158.0,376.0 159.1,380.0 160.7,372.0 162.3,366.8 164.1,370.8 166.0,374.8 168.0,376.9 170.7,376.0 173.4,377.4 176.5,376.0 179.2,373.4 180.8,374.8 182.6,380.0 184.4,382.7 186.6,382.7" fill="none" stroke="#567c2c" stroke-width="1.25" stroke-linejoin="round"/>
<rect x="83.8" y="290.6" width="56.2" height="21.4" fill="#fff" fill-opacity="0.85" stroke="#e8e8e8" stroke-width="0.5" rx="1"/>
<line x1="85.7" y1="294.4" x2="95.9" y2="294.4" stroke="#e2d2b0" stroke-width="0.9"/>
<line x1="85.7" y1="301.0" x2="95.9" y2="301.0" stroke="#c4c4f2" stroke-width="0.9"/>
<line x1="85.7" y1="307.8" x2="95.9" y2="307.8" stroke="#5a8a30" stroke-width="1.4"/>
<text x="99.7" y="296.1" font-size="4.6" fill="#3a3a3a" text-anchor="start" textLength="22.3" lengthAdjust="spacingAndGlyphs" >s1_veg(t)</text>
<text x="99.7" y="302.7" font-size="4.6" fill="#3a3a3a" text-anchor="start" textLength="22.3" lengthAdjust="spacingAndGlyphs" >s2_veg(t)</text>
<text x="99.7" y="309.5" font-size="4.6" fill="#3a3a3a" text-anchor="start" textLength="38.2" lengthAdjust="spacingAndGlyphs" >BiomassProxy(t)</text>
<defs>
<filter color-interpolation-filters="sRGB" id="mottle" x="0" y="0" width="1" height="1" filterUnits="objectBoundingBox">
  <feGaussianBlur in="SourceGraphic" stdDeviation="1.0" result="sb"/>
  <feTurbulence type="fractalNoise" baseFrequency="0.13" numOctaves="2" seed="4" result="n1"/>
  <feColorMatrix in="n1" type="matrix" values="0 0 0 0 0.91  0 0 0 0 0.95  0 0 0 0 0.72  1.4 0 0 0 -0.2" result="l0"/>
  <feComponentTransfer in="l0" result="light"><feFuncA type="table" tableValues="0 0 0 0.15 0.6 0.9 0.95"/></feComponentTransfer>
  <feTurbulence type="fractalNoise" baseFrequency="0.16" numOctaves="2" seed="21" result="n2"/>
  <feColorMatrix in="n2" type="matrix" values="0 0 0 0 0.46  0 0 0 0 0.63  0 0 0 0 0.33  1.4 0 0 0 -0.2" result="d0"/>
  <feComponentTransfer in="d0" result="dark"><feFuncA type="table" tableValues="0.9 0.65 0.25 0 0 0 0"/></feComponentTransfer>
  <feMerge result="m0"><feMergeNode in="sb"/><feMergeNode in="light"/><feMergeNode in="dark"/></feMerge>
  <feComposite in="m0" in2="SourceGraphic" operator="in"/>
</filter>
<filter color-interpolation-filters="sRGB" id="band" x="0" y="0" width="1" height="1" filterUnits="objectBoundingBox">
  <feTurbulence type="fractalNoise" baseFrequency="0.18" numOctaves="2" seed="17" result="n2"/>
  <feColorMatrix in="n2" type="matrix" values="0 0 0 0 0.16  0 0 0 0 0.5  0 0 0 0 0.25  1.4 0 0 0 -0.2" result="d0"/>
  <feComponentTransfer in="d0" result="dark"><feFuncA type="table" tableValues="0.9 0.7 0.35 0 0 0 0"/></feComponentTransfer>
  <feTurbulence type="fractalNoise" baseFrequency="0.2" numOctaves="2" seed="5" result="n1"/>
  <feColorMatrix in="n1" type="matrix" values="0 0 0 0 0.45  0 0 0 0 0.85  0 0 0 0 0.45  1.4 0 0 0 -0.2" result="l0"/>
  <feComponentTransfer in="l0" result="light"><feFuncA type="table" tableValues="0 0 0 0.1 0.5 0.8 0.85"/></feComponentTransfer>
  <feMerge result="m0"><feMergeNode in="SourceGraphic"/><feMergeNode in="light"/><feMergeNode in="dark"/></feMerge>
  <feComposite in="m0" in2="SourceGraphic" operator="in"/>
</filter>
<filter color-interpolation-filters="sRGB" id="stripes" x="0" y="0" width="1" height="1" filterUnits="objectBoundingBox">
  <feGaussianBlur in="SourceGraphic" stdDeviation="0.8 0.7" result="sb"/>
  <feTurbulence type="fractalNoise" baseFrequency="0.11 0.5" numOctaves="2" seed="8" result="n1"/>
  <feColorMatrix in="n1" type="matrix" values="0 0 0 0 0.88  0 0 0 0 0.95  0 0 0 0 0.62  1.4 0 0 0 -0.2" result="l0"/>
  <feComponentTransfer in="l0" result="light"><feFuncA type="table" tableValues="0 0 0 0.1 0.45 0.7 0.8"/></feComponentTransfer>
  <feTurbulence type="fractalNoise" baseFrequency="0.12 0.55" numOctaves="2" seed="31" result="n2"/>
  <feColorMatrix in="n2" type="matrix" values="0 0 0 0 0.28  0 0 0 0 0.55  0 0 0 0 0.28  1.4 0 0 0 -0.2" result="d0"/>
  <feComponentTransfer in="d0" result="dark"><feFuncA type="table" tableValues="0.75 0.4 0.08 0 0 0 0"/></feComponentTransfer>
  <feMerge result="m0"><feMergeNode in="sb"/><feMergeNode in="light"/><feMergeNode in="dark"/></feMerge>
  <feComposite in="m0" in2="SourceGraphic" operator="in"/>
</filter>
<clipPath id="cpCR"><rect x="261.2" y="279.6" width="72.6" height="45.6"/></clipPath>
<clipPath id="cpND"><rect x="260.2" y="358.9" width="74.4" height="48.1"/></clipPath>
<clipPath id="cpBP"><rect x="394.5" y="307.4" width="107" height="70.9"/></clipPath>
</defs>
<rect x="255.8" y="279" width="5.4" height="48" fill="#e4f9f9"/>
<rect x="343.5" y="300" width="9" height="36" fill="#fdf6fa"/>
<rect x="255.6" y="359.5" width="4.8" height="33" fill="#ebfafa"/>
<rect x="346" y="380" width="8" height="38" fill="#fdf6fa"/>
<rect x="383.5" y="304" width="11" height="76" fill="#f1fcfc"/>
<rect x="394.5" y="304" width="110" height="3.4" fill="#f1fcfc"/>
<rect x="502" y="345" width="26" height="52" fill="#fdf6fa"/>
<rect x="261.2" y="278.6" width="72.6" height="46.6" fill="#c6df92"/>
<rect x="261.2" y="278.4" width="72.6" height="1.4" fill="#e4eea4"/>
<g clip-path="url(#cpCR)"><g filter="url(#mottle)">
<rect x="261.2" y="279.6" width="72.6" height="45.6" fill="#c6df92"/>
<ellipse cx="328" cy="286" rx="8" ry="8" fill="#2c6e3a"/>
<rect x="320" y="296" width="14" height="24" fill="#80a25a"/>
<rect x="276" y="309" width="42" height="17" fill="#ece8a8"/>
<ellipse cx="266" cy="322" rx="5" ry="4" fill="#4a8a4a"/>
<ellipse cx="268" cy="300" rx="5" ry="6" fill="#a8c47c"/>
<ellipse cx="300" cy="303" rx="6" ry="4" fill="#aac47a"/>
</g>
<clipPath id="cpBand"><rect x="271.6" y="288" width="62.4" height="8"/></clipPath>
<g clip-path="url(#cpBand)"><g filter="url(#band)">
<rect x="271.6" y="288" width="62.4" height="8" fill="#4abc62"/>
<ellipse cx="283" cy="292.5" rx="8" ry="3.5" fill="#237a3c" filter="url(#blur1)"/>
<ellipse cx="312" cy="291.5" rx="6" ry="3.5" fill="#267e3e" filter="url(#blur1)"/>
<ellipse cx="329" cy="290" rx="7" ry="6" fill="#1f6434" filter="url(#blur1)"/>
</g></g>
</g>
<rect x="260.2" y="358.9" width="74.4" height="48.1" fill="#c4e08a"/>
<g clip-path="url(#cpND)"><g filter="url(#stripes)">
<rect x="260.2" y="358.9" width="74.4" height="2.9" fill="#b8e080"/>
<rect x="260.2" y="361.8" width="74.4" height="5.1" fill="#b4d676"/>
<rect x="260.2" y="366.9" width="74.4" height="9.5" fill="#b8dc80"/>
<rect x="260.2" y="376.4" width="74.4" height="4.3" fill="#d2ea94"/>
<rect x="260.2" y="380.7" width="74.4" height="6.6" fill="#aed67c"/>
<rect x="260.2" y="387.3" width="74.4" height="6.5" fill="#c4df86"/>
<rect x="260.2" y="393.8" width="74.4" height="5.8" fill="#d6e89a"/>
<rect x="260.2" y="399.6" width="74.4" height="7.4" fill="#dfeaa0"/>
<rect x="271" y="367.5" width="52.5" height="8.5" fill="#74c25e"/>
<rect x="272" y="400" width="48" height="7" fill="#f0eeb0"/>
<rect x="327.8" y="359" width="6.8" height="48" fill="#6aa454"/>
</g></g>
<rect x="394.5" y="307.4" width="107.1" height="70.9" fill="#b8da86"/>
<g clip-path="url(#cpBP)"><g filter="url(#stripes)">
<rect x="394.5" y="307.4" width="107.1" height="2.0" fill="#2a602e"/>
<rect x="394.5" y="309.4" width="107.1" height="5.9" fill="#c0de88"/>
<rect x="394.5" y="315.3" width="107.1" height="6.9" fill="#96d06e"/>
<rect x="394.5" y="322.2" width="107.1" height="13.0" fill="#74c25e"/>
<rect x="394.5" y="335.2" width="107.1" height="6.0" fill="#d4ea94"/>
<rect x="394.5" y="341.2" width="107.1" height="8.6" fill="#a2d276"/>
<rect x="394.5" y="349.8" width="107.1" height="6.9" fill="#c4e08c"/>
<rect x="394.5" y="356.7" width="107.1" height="4.3" fill="#a0ce76"/>
<rect x="394.5" y="361" width="107.1" height="6.0" fill="#d4e898"/>
<rect x="394.5" y="367" width="107.1" height="9.5" fill="#f0f2b0"/>
<rect x="394.5" y="376.5" width="107.1" height="1.9" fill="#dfe8a0"/>
<rect x="394.5" y="309" width="4.5" height="69" fill="#b4c274"/>
<rect x="495.5" y="309" width="6.1" height="69" fill="#9cbc6a"/>
<rect x="499.3" y="309" width="2.3" height="69" fill="#5e7e44"/>
</g></g>
<rect x="337.9" y="268.8" width="4.1" height="66.9" fill="url(#cbar)"/>
<line x1="342.0" y1="273.4" x2="342.8" y2="273.4" stroke="#666" stroke-width="0.3"/>
<text x="343.6" y="274.3" font-size="2.6" fill="#555" text-anchor="start" >1.4</text>
<line x1="342.0" y1="282.3" x2="342.8" y2="282.3" stroke="#666" stroke-width="0.3"/>
<text x="343.6" y="283.2" font-size="2.6" fill="#555" text-anchor="start" >1.2</text>
<line x1="342.0" y1="291.2" x2="342.8" y2="291.2" stroke="#666" stroke-width="0.3"/>
<text x="343.6" y="292.1" font-size="2.6" fill="#555" text-anchor="start" >1.0</text>
<line x1="342.0" y1="300.1" x2="342.8" y2="300.1" stroke="#666" stroke-width="0.3"/>
<text x="343.6" y="301.0" font-size="2.6" fill="#555" text-anchor="start" >0.8</text>
<line x1="342.0" y1="309.0" x2="342.8" y2="309.0" stroke="#666" stroke-width="0.3"/>
<text x="343.6" y="309.9" font-size="2.6" fill="#555" text-anchor="start" >0.6</text>
<line x1="342.0" y1="317.9" x2="342.8" y2="317.9" stroke="#666" stroke-width="0.3"/>
<text x="343.6" y="318.8" font-size="2.6" fill="#555" text-anchor="start" >0.4</text>
<line x1="342.0" y1="326.8" x2="342.8" y2="326.8" stroke="#666" stroke-width="0.3"/>
<text x="343.6" y="327.7" font-size="2.6" fill="#555" text-anchor="start" >0.2</text>
<line x1="342.0" y1="335.7" x2="342.8" y2="335.7" stroke="#666" stroke-width="0.3"/>
<text x="343.6" y="336.6" font-size="2.6" fill="#555" text-anchor="start" >0.0</text>
<rect x="340.5" y="348.9" width="3.5" height="69.1" fill="url(#cbar)"/>
<line x1="344.0" y1="353.4" x2="344.8" y2="353.4" stroke="#666" stroke-width="0.3"/>
<text x="345.6" y="354.3" font-size="2.6" fill="#555" text-anchor="start" >1.4</text>
<line x1="344.0" y1="362.5" x2="344.8" y2="362.5" stroke="#666" stroke-width="0.3"/>
<text x="345.6" y="363.5" font-size="2.6" fill="#555" text-anchor="start" >1.2</text>
<line x1="344.0" y1="371.7" x2="344.8" y2="371.7" stroke="#666" stroke-width="0.3"/>
<text x="345.6" y="372.6" font-size="2.6" fill="#555" text-anchor="start" >1.0</text>
<line x1="344.0" y1="380.8" x2="344.8" y2="380.8" stroke="#666" stroke-width="0.3"/>
<text x="345.6" y="381.7" font-size="2.6" fill="#555" text-anchor="start" >0.8</text>
<line x1="344.0" y1="389.9" x2="344.8" y2="389.9" stroke="#666" stroke-width="0.3"/>
<text x="345.6" y="390.9" font-size="2.6" fill="#555" text-anchor="start" >0.6</text>
<line x1="344.0" y1="399.0" x2="344.8" y2="399.0" stroke="#666" stroke-width="0.3"/>
<text x="345.6" y="400.0" font-size="2.6" fill="#555" text-anchor="start" >0.4</text>
<line x1="344.0" y1="408.2" x2="344.8" y2="408.2" stroke="#666" stroke-width="0.3"/>
<text x="345.6" y="409.1" font-size="2.6" fill="#555" text-anchor="start" >0.2</text>
<line x1="344.0" y1="417.3" x2="344.8" y2="417.3" stroke="#666" stroke-width="0.3"/>
<text x="345.6" y="418.2" font-size="2.6" fill="#555" text-anchor="start" >0.0</text>
<rect x="509.8" y="292.4" width="5.3" height="101.4" fill="url(#cbar2)"/>
<line x1="515.1" y1="292.4" x2="515.9" y2="292.4" stroke="#666" stroke-width="0.3"/>
<text x="516.7" y="293.6" font-size="3.4" fill="#555" text-anchor="start" >1.0</text>
<line x1="515.1" y1="312.7" x2="515.9" y2="312.7" stroke="#666" stroke-width="0.3"/>
<text x="516.7" y="313.9" font-size="3.4" fill="#555" text-anchor="start" >0.8</text>
<line x1="515.1" y1="333.0" x2="515.9" y2="333.0" stroke="#666" stroke-width="0.3"/>
<text x="516.7" y="334.2" font-size="3.4" fill="#555" text-anchor="start" >0.6</text>
<line x1="515.1" y1="353.2" x2="515.9" y2="353.2" stroke="#666" stroke-width="0.3"/>
<text x="516.7" y="354.5" font-size="3.4" fill="#555" text-anchor="start" >0.4</text>
<line x1="515.1" y1="373.5" x2="515.9" y2="373.5" stroke="#666" stroke-width="0.3"/>
<text x="516.7" y="374.7" font-size="3.4" fill="#555" text-anchor="start" >0.2</text>
<line x1="515.1" y1="393.8" x2="515.9" y2="393.8" stroke="#666" stroke-width="0.3"/>
<text x="516.7" y="395.0" font-size="3.4" fill="#555" text-anchor="start" >0.0</text>
<path d="M365.6,298.5 H376.3 V393.7 H365.6 M376.3,347.3 H385.3" fill="none" stroke="#3a3a3a" stroke-width="1.1"/>
</svg></body></html>
